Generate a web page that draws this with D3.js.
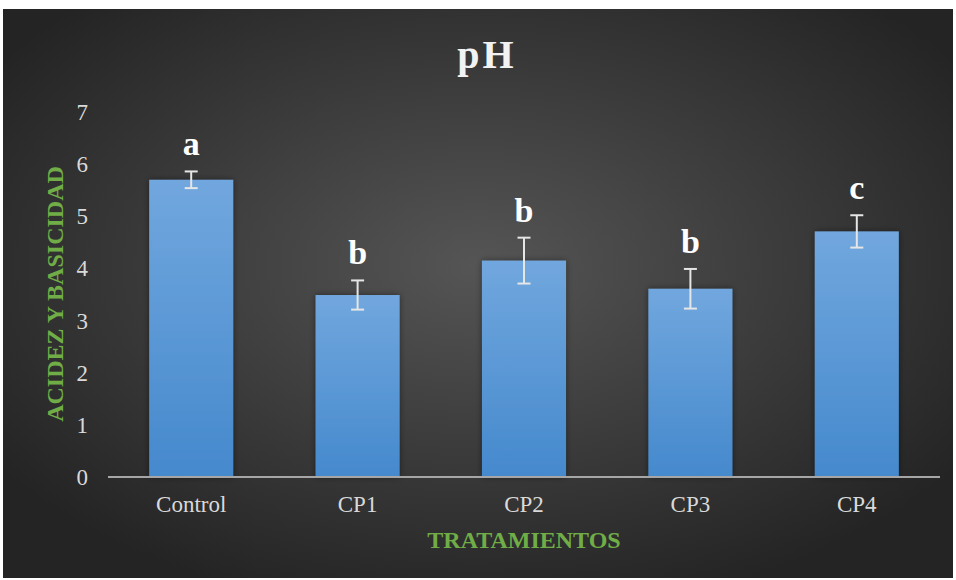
<!DOCTYPE html>
<html><head><meta charset="utf-8">
<script src="https://cdn.jsdelivr.net/npm/d3@7"></script>
<style>html,body{margin:0;padding:0;background:#fff;}svg{display:block;}</style>
</head><body>
<script>
const categories = ["Control", "CP1", "CP2", "CP3", "CP4"];
const means = [5.70, 3.49, 4.15, 3.61, 4.71];
const errors = [0.16, 0.28, 0.44, 0.38, 0.31];
const letters = ["a", "b", "b", "b", "c"];
const yTicks = [0, 1, 2, 3, 4, 5, 6, 7];

const W = 956, H = 580;
const svg = d3.select("body").append("svg").attr("width", W).attr("height", H);
const defs = svg.append("defs");
const rg = defs.append("radialGradient").attr("id", "bg")
  .attr("cx", "50%").attr("cy", "45%").attr("r", "62%");
rg.append("stop").attr("offset", "0%").attr("stop-color", "#555555");
rg.append("stop").attr("offset", "100%").attr("stop-color", "#242424");
const lg = defs.append("linearGradient").attr("id", "bar").attr("x1", 0).attr("y1", 0).attr("x2", 0).attr("y2", 1);
lg.append("stop").attr("offset", "0%").attr("stop-color", "#71a7de");
lg.append("stop").attr("offset", "100%").attr("stop-color", "#4589cd");
const f = defs.append("filter").attr("id", "sh").attr("x", "-20%").attr("y", "-20%").attr("width", "140%").attr("height", "140%");
f.append("feDropShadow").attr("dx", 0).attr("dy", 0).attr("stdDeviation", 3).attr("flood-color", "#000").attr("flood-opacity", 0.45);

svg.append("rect").attr("x", 3).attr("y", 9).attr("width", 950).attr("height", 569).attr("fill", "url(#bg)");

const x = d3.scaleBand().domain(categories).range([108, 940]).paddingInner(0.495).paddingOuter(0.2475);
const y = d3.scaleLinear().domain([0, 7]).range([477, 112]);

const serif = "'Liberation Serif','Times New Roman',serif";

// bars
svg.append("g").selectAll("rect").data(categories).join("rect")
  .attr("x", d => x(d)).attr("width", x.bandwidth())
  .attr("y", (d, i) => y(means[i])).attr("height", (d, i) => y(0) - y(means[i]))
  .attr("fill", "url(#bar)").attr("filter", "url(#sh)");

// axis line
svg.append("line").attr("x1", 108).attr("x2", 940).attr("y1", y(0)).attr("y2", y(0))
  .attr("stroke", "#a6a6a6").attr("stroke-width", 2);

// error bars
const eg = svg.append("g").attr("stroke", "#e6e6e6").attr("stroke-width", 2);
categories.forEach((c, i) => {
  const cx = x(c) + x.bandwidth() / 2;
  const t = y(means[i] + errors[i]), b = y(means[i] - errors[i]);
  eg.append("line").attr("x1", cx).attr("x2", cx).attr("y1", t).attr("y2", b);
  eg.append("line").attr("x1", cx - 6.5).attr("x2", cx + 6.5).attr("y1", t).attr("y2", t);
  eg.append("line").attr("x1", cx - 6.5).attr("x2", cx + 6.5).attr("y1", b).attr("y2", b);
});

// letters
svg.append("g").selectAll("text").data(categories).join("text")
  .attr("x", d => x(d) + x.bandwidth() / 2)
  .attr("y", (d, i) => y(means[i] + errors[i]) - 16)
  .attr("text-anchor", "middle").attr("font-family", serif).attr("font-weight", "bold")
  .attr("font-size", 34).attr("fill", "#ffffff")
  .text((d, i) => letters[i]);

// y ticks
svg.append("g").selectAll("text").data(yTicks).join("text")
  .attr("x", 88).attr("y", d => y(d) + 8)
  .attr("text-anchor", "end").attr("font-family", serif).attr("font-size", 23).attr("fill", "#d9d9d9")
  .text(d => d);

// x labels
svg.append("g").selectAll("text").data(categories).join("text")
  .attr("x", d => x(d) + x.bandwidth() / 2).attr("y", 512)
  .attr("text-anchor", "middle").attr("font-family", serif).attr("font-size", 23).attr("fill", "#d9d9d9")
  .text(d => d);

// title
svg.append("text").attr("x", 487).attr("y", 68).attr("text-anchor", "middle")
  .attr("font-family", serif).attr("font-weight", "bold").attr("font-size", 40)
  .attr("letter-spacing", 3).attr("fill", "#f2f2f2").text("pH");

// axis titles
svg.append("text").attr("x", 524).attr("y", 548).attr("text-anchor", "middle")
  .attr("font-family", serif).attr("font-weight", "bold").attr("font-size", 24).attr("fill", "#70ad47")
  .text("TRATAMIENTOS");
svg.append("text").attr("transform", "translate(63,294) rotate(-90)").attr("text-anchor", "middle")
  .attr("font-family", serif).attr("font-weight", "bold").attr("font-size", 24).attr("fill", "#70ad47")
  .text("ACIDEZ Y BASICIDAD");
</script>
</body></html>
